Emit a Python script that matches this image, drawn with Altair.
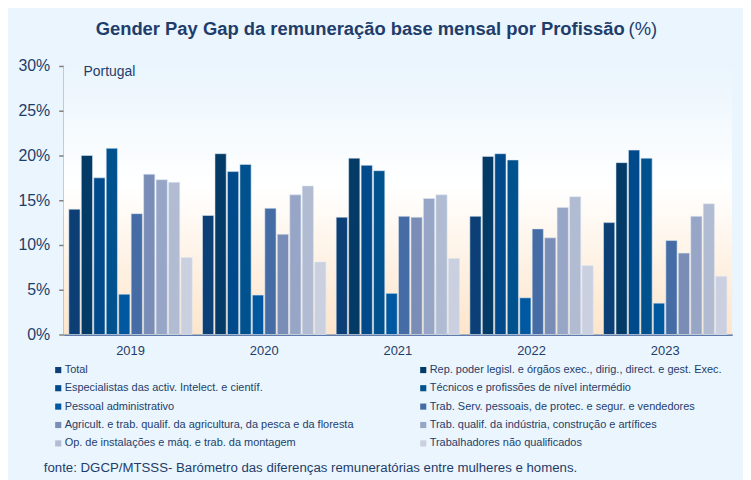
import altair as alt
import pandas as pd

years = ["2019", "2020", "2021", "2022", "2023"]
categories = [
    "Total",
    "Rep. poder legisl. e órgãos exec., dirig., direct. e gest. Exec.",
    "Especialistas das activ. Intelect. e científ.",
    "Técnicos e profissões de nível intermédio",
    "Pessoal administrativo",
    "Trab. Serv. pessoais, de protec. e segur. e vendedores",
    "Agricult. e trab. qualif. da agricultura, da pesca e da floresta",
    "Trab. qualif. da indústria, construção e artífices",
    "Op. de instalações e máq. e trab. da montagem",
    "Trabalhadores não qualificados",
]
total = [14.0, 13.3, 13.1, 13.2, 12.5]
rep = [20.0, 20.2, 19.7, 19.9, 19.2]
esp = [17.5, 18.2, 18.9, 20.2, 20.6]
tec = [20.8, 19.0, 18.3, 19.5, 19.7]
pessoal = [4.5, 4.4, 4.6, 4.1, 3.5]
serv = [13.5, 14.1, 13.2, 11.8, 10.5]
agr = [17.9, 11.2, 13.1, 10.8, 9.1]
ind = [17.3, 15.6, 15.2, 14.2, 13.2]
op = [17.0, 16.6, 15.6, 15.4, 14.6]
nq = [8.6, 8.1, 8.5, 7.7, 6.5]
colors = ["#0b3f75", "#033a66", "#00498a", "#00528f", "#0058a0",
          "#456ca5", "#7a8db6", "#97a6c6", "#b1bcd3", "#cbd0e0"]

series = [total, rep, esp, tec, pessoal, serv, agr, ind, op, nq]
rows = []
for cat, vals in zip(categories, series):
    for y, v in zip(years, vals):
        rows.append({"year": y, "cat": cat, "value": v})
df = pd.DataFrame(rows)

W, H = 672, 270
TXT = "#1f3d6b"

bg = alt.Chart(alt.Data(values=[{}])).mark_rect(
    fill=alt.Gradient(
        gradient="linear", x1=0, y1=0, x2=0, y2=1,
        stops=[alt.GradientStop(offset=0, color="#eaf5fd"),
               alt.GradientStop(offset=0.45, color="#ffffff"),
               alt.GradientStop(offset=1, color="#fde5cb")]
    )
).encode(x=alt.value(0), x2=alt.value(W), y=alt.value(0), y2=alt.value(H))

bars = alt.Chart(df).mark_bar(
    stroke="#dfe8f3", strokeWidth=0.8, strokeOpacity=0.7
).encode(
    x=alt.X("year:N", sort=years, title=None,
            scale=alt.Scale(paddingInner=0.077, paddingOuter=0.0385),
            axis=alt.Axis(labelAngle=0, labelFontSize=13, labelColor=TXT,
                          ticks=False, labelPadding=10, domainColor="#2f5597",
                          domainWidth=1.5, grid=False)),
    xOffset=alt.XOffset("cat:N", sort=categories,
                        scale=alt.Scale(paddingInner=0.1, paddingOuter=0)),
    y=alt.Y("value:Q", title=None,
            scale=alt.Scale(domain=[0, 30], nice=False),
            axis=alt.Axis(values=[0, 5, 10, 15, 20, 25, 30],
                          labelExpr="datum.value + '%'",
                          labelFontSize=16, labelColor=TXT, labelPadding=9,
                          domainColor="#808080", domainWidth=1.5,
                          tickColor="#808080", tickSize=5, tickWidth=1.5,
                          grid=True, gridColor="#f7dcc6", gridDash=[3, 2],
                          gridWidth=1)),
    color=alt.Color("cat:N", sort=categories,
                    scale=alt.Scale(domain=categories, range=colors),
                    legend=alt.Legend(
                        title=None, orient="none", legendX=-11, legendY=300,
                        columns=2, direction="horizontal",
                        symbolType="square", symbolSize=38,
                        symbolStrokeWidth=0, labelFontSize=11,
                        labelColor=TXT, labelLimit=500, rowPadding=6.5,
                        columnPadding=64, symbolOffset=0, labelOffset=1)),
)

title_bold = alt.Chart(alt.Data(values=[{}])).mark_text(
    text="Gender Pay Gap da remuneração base mensal por Profissão",
    fontSize=18.5, fontWeight="bold", color=TXT, align="right",
    baseline="alphabetic"
).encode(x=alt.value(564), y=alt.value(-31))

title_pct = alt.Chart(alt.Data(values=[{}])).mark_text(
    text="(%)", fontSize=18.5, color=TXT, align="left", baseline="alphabetic"
).encode(x=alt.value(568), y=alt.value(-31))

portugal = alt.Chart(alt.Data(values=[{}])).mark_text(
    text="Portugal", fontSize=14, color=TXT, align="left",
    baseline="alphabetic"
).encode(x=alt.value(20), y=alt.value(10))

source = alt.Chart(alt.Data(values=[{}])).mark_text(
    text="fonte: DGCP/MTSSS- Barómetro das diferenças remuneratórias entre mulheres e homens.",
    fontSize=13.3, color=TXT, align="left", baseline="alphabetic"
).encode(x=alt.value(-20), y=alt.value(408))

chart = alt.layer(bg, bars, title_bold, title_pct, portugal, source).properties(
    width=W, height=H,
    autosize=alt.AutoSizeParams(type="none"),
    padding={"left": 56, "top": 57, "right": 11, "bottom": 145},
    background="#eaf5fd",
).configure(font="Liberation Sans").configure_view(stroke=None)

chart.save("out.html", embed_options={"renderer": "svg", "actions": False})
